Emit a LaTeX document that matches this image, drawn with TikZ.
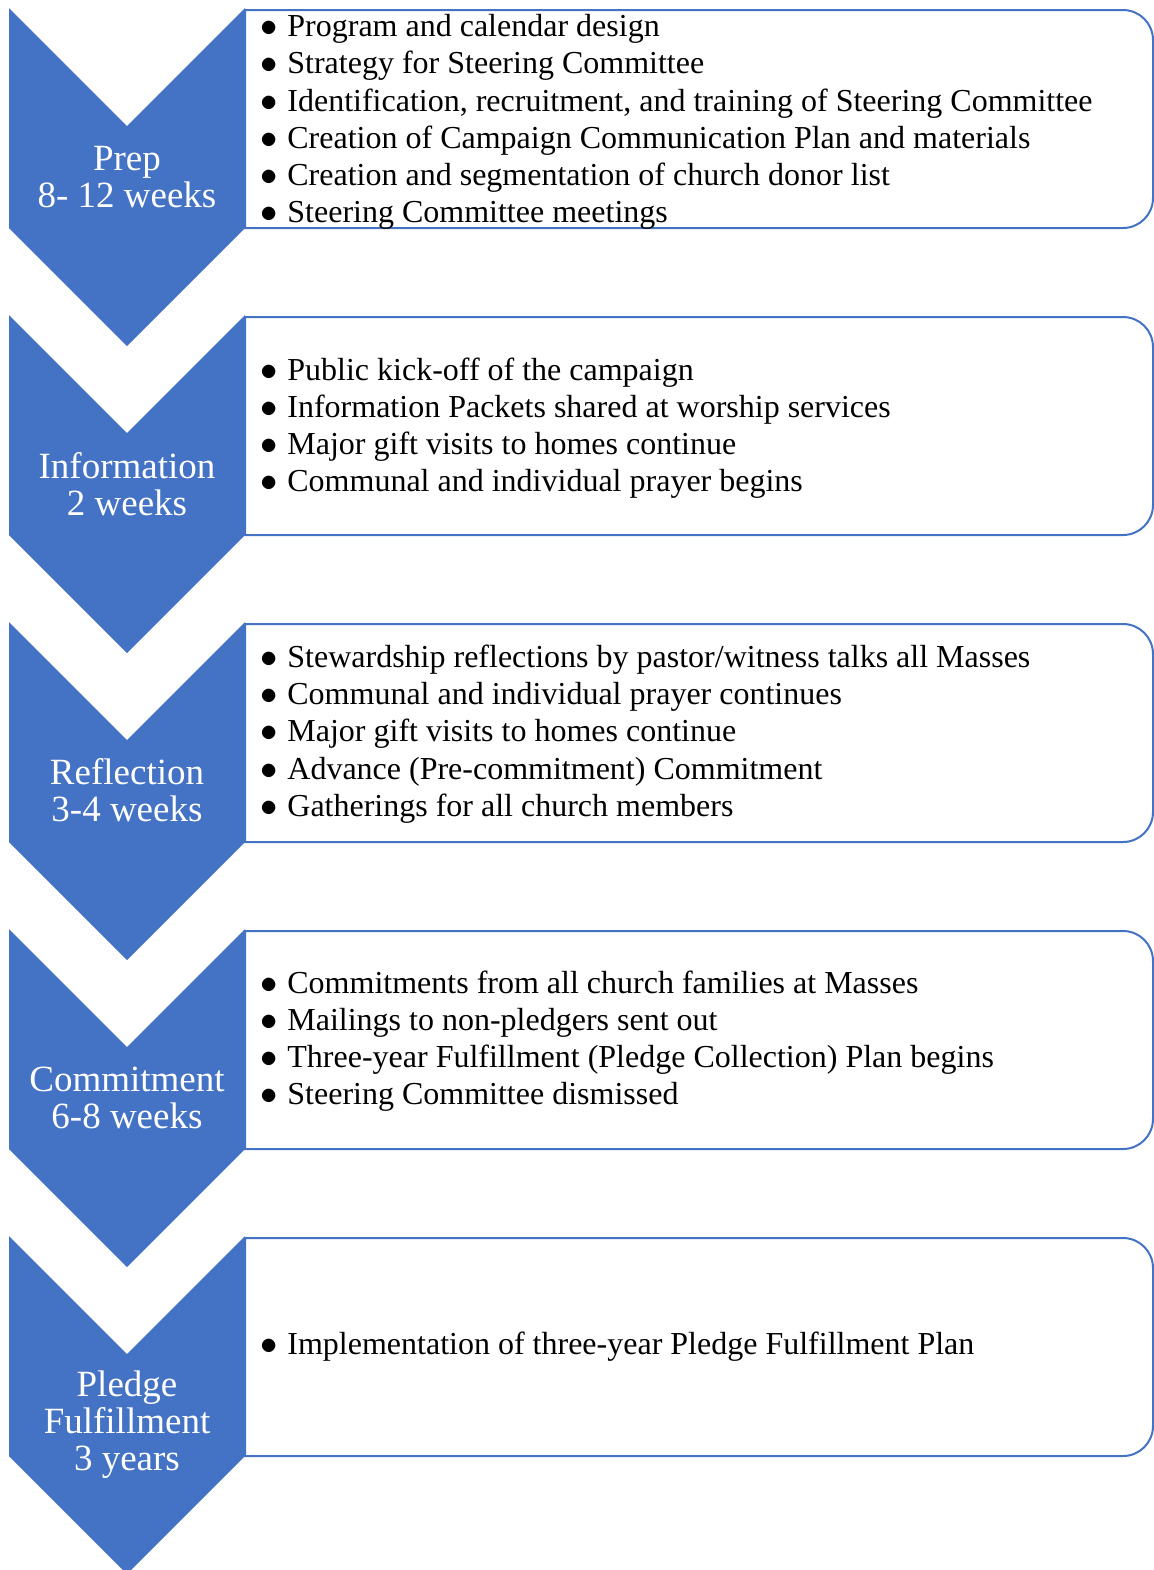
\documentclass[tikz,border=0pt]{standalone}
\usepackage{fontspec}
\setmainfont{Liberation Serif}
\definecolor{stageblue}{HTML}{4472C4}
\newcommand{\bul}{\makebox[12.5pt][l]{\hspace{-1pt}$\bullet$}}
\tikzset{
  chevron/.style={fill=stageblue, draw=none},
  taskbox/.style={draw=stageblue, line width=1pt, fill=white},
  stagelabel/.style={text=white, align=center, inner sep=0pt,
    font=\fontsize{18.5}{18.5}\selectfont},
  tasklist/.style={anchor=west, align=left, inner sep=0pt,
    font=\fontsize{16}{18.6}\selectfont}
}
\begin{document}
\begin{tikzpicture}[x=0.5pt, y=-0.5pt]
	\useasboundingbox (0,0) rectangle (1154,1570);

	% Task boxes (square on the left, rounded on the right)
	\draw[taskbox] (245,10) -- (1123,10) arc[start angle=90, end angle=0, radius=15pt]
		-- (1153,198) arc[start angle=0, end angle=-90, radius=15pt] -- (245,228) -- cycle;
	\draw[taskbox] (245,317) -- (1123,317) arc[start angle=90, end angle=0, radius=15pt]
		-- (1153,505) arc[start angle=0, end angle=-90, radius=15pt] -- (245,535) -- cycle;
	\draw[taskbox] (245,624) -- (1123,624) arc[start angle=90, end angle=0, radius=15pt]
		-- (1153,812) arc[start angle=0, end angle=-90, radius=15pt] -- (245,842) -- cycle;
	\draw[taskbox] (245,931) -- (1123,931) arc[start angle=90, end angle=0, radius=15pt]
		-- (1153,1119) arc[start angle=0, end angle=-90, radius=15pt] -- (245,1149) -- cycle;
	\draw[taskbox] (245,1238) -- (1123,1238) arc[start angle=90, end angle=0, radius=15pt]
		-- (1153,1426) arc[start angle=0, end angle=-90, radius=15pt] -- (245,1456) -- cycle;

	% Stage chevrons
	\fill[chevron] (9,8) -- (127,126) -- (245,8) -- (245,228) -- (127,346) -- (9,228) -- cycle;
	\fill[chevron] (9,315) -- (127,433) -- (245,315) -- (245,535) -- (127,653) -- (9,535) -- cycle;
	\fill[chevron] (9,622) -- (127,740) -- (245,622) -- (245,842) -- (127,960) -- (9,842) -- cycle;
	\fill[chevron] (9,929) -- (127,1047) -- (245,929) -- (245,1149) -- (127,1267) -- (9,1149) -- cycle;
	\fill[chevron] (9,1236) -- (127,1354) -- (245,1236) -- (245,1456) -- (127,1574) -- (9,1456) -- cycle;

	% Stage labels
	\node[stagelabel] (prep) at (127,177) {Prep\\8- 12 weeks};
	\node[stagelabel] (info) at (127,484) {Information\\2 weeks};
	\node[stagelabel] (refl) at (127,790) {Reflection\\3-4 weeks};
	\node[stagelabel] (commit) at (127,1098) {Commitment\\6-8 weeks};
	\node[stagelabel] (pledge) at (127,1425) {Pledge\\Fulfillment\\3 years};

	% Task lists
	\node[tasklist] (prepTasks) at (262,122) {%
		\bul Program and calendar design\\
		\bul Strategy for Steering Committee\\
		\bul Identification, recruitment, and training of Steering Committee\\
		\bul Creation of Campaign Communication Plan and materials\\
		\bul Creation and segmentation of church donor list\\
		\bul Steering Committee meetings};
	\node[tasklist] (infoTasks) at (262,428) {%
		\bul Public kick-off of the campaign\\
		\bul Information Packets shared at worship services\\
		\bul Major gift visits to homes continue\\
		\bul Communal and individual prayer begins};
	\node[tasklist] (reflTasks) at (262,734) {%
		\bul Stewardship reflections by pastor/witness talks all Masses\\
		\bul Communal and individual prayer continues\\
		\bul Major gift visits to homes continue\\
		\bul Advance (Pre-commitment) Commitment\\
		\bul Gatherings for all church members};
	\node[tasklist] (commitTasks) at (262,1041) {%
		\bul Commitments from all church families at Masses\\
		\bul Mailings to non-pledgers sent out\\
		\bul Three-year Fulfillment (Pledge Collection) Plan begins\\
		\bul Steering Committee dismissed};
	\node[tasklist] (pledgeTasks) at (262,1347) {%
		\bul Implementation of three-year Pledge Fulfillment Plan};

\end{tikzpicture}
\end{document}
